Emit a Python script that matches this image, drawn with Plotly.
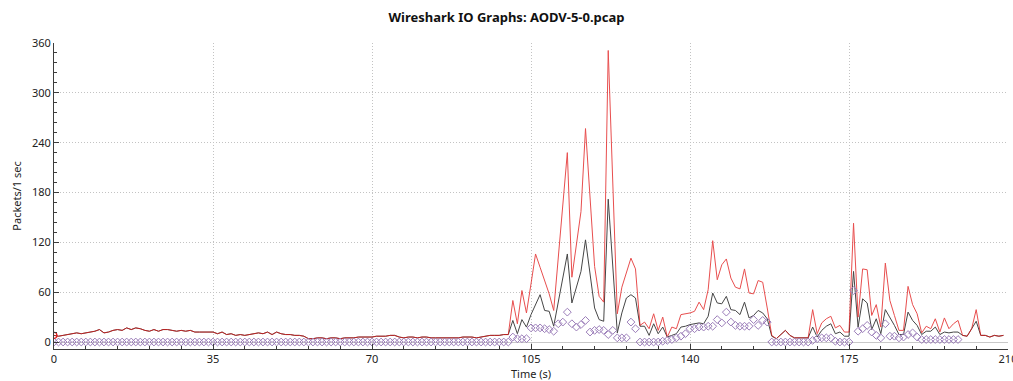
import plotly.graph_objects as go

times = list(range(210))

# Red series (all packets) t = 0..209
red_vals = [
    8, 7, 8, 9, 10, 11, 10, 11, 12, 13,
    15, 11, 12, 14, 15, 14, 17, 15, 17, 16,
    14, 13, 15, 13, 15, 15, 14, 13, 14, 13,
    14, 12, 12, 12, 12, 12, 10, 12, 9, 10,
    8, 9, 8, 9, 10, 11, 10, 12, 9, 12,
    10, 9, 9, 8, 8, 7, 4, 4, 5, 5,
    4, 5, 5, 4, 5, 5, 5, 6, 6, 6,
    6, 7, 7, 7, 8, 8, 6, 5, 6, 6,
    5, 6, 6, 5, 5, 5, 5, 5, 5, 5,
    6, 6, 6, 5, 6, 7, 8, 8, 8, 9,
    9, 50, 22, 62, 35, 70, 106, 90, 74, 58,
    38, 100, 164, 228, 78, 118, 157, 257, 172, 91,
    55, 48, 351, 190, 34, 66, 84, 101, 88, 20,
    24, 16, 34, 14, 30, 6, 18, 16, 33, 34,
    35, 37, 48, 39, 63, 122, 75, 93, 100, 77,
    66, 64, 88, 59, 58, 74, 72, 41, 8, 4,
    9, 14, 8, 5, 5, 5, 5, 39, 10, 23,
    28, 31, 17, 20, 12, 12, 143, 30, 88, 87,
    32, 45, 18, 95, 50, 32, 14, 14, 67, 45,
    34, 11, 19, 16, 28, 12, 29, 16, 22, 26,
    8, 7, 16, 39, 8, 8, 6, 8, 7, 8,
]

# Gray series t = 0..209
gray_vals = red_vals[:101] + [
    26, 10, 27, 18, 33, 46, 57, 38, 37,
    19, 48, 77, 106, 47, 66, 85, 123, 80, 41,
    27, 25, 172, 90, 11, 35, 53, 57, 53, 19,
    19, 8, 22, 10, 18, 6, 8, 10, 18, 19,
    21, 22, 23, 22, 31, 59, 47, 46, 55, 39,
    38, 33, 48, 29, 32, 38, 35, 28, 7, 4,
    9, 14, 8, 5, 5, 5, 5, 18, 6, 14,
    19, 22, 10, 12, 7, 7, 85, 18, 52, 47,
    15, 28, 10, 39, 30, 20, 9, 9, 36, 26,
    20, 9, 13, 13, 18, 9, 12, 11, 12, 12,
    8, 7, 16, 25, 8, 8, 6, 8, 7, 8,
]

# Diamond series t = 0..209 (None = no point)
diamond_vals = [0] * 101 + [
    6, 4, 4, 4, 17, 17, 17, 16, 15,
    13, 22, 24, 36, 22, 18, 21, 26, 12, 14,
    15, 14, 9, 14, 5, 5, 5, 24, 16, 0,
    0, 0, 0, 0, 1, 2, 3, 5, 7, 10,
    16, 16, 18, 18, 19, 19, 27, 23, 36, 24,
    20, 19, 19, 19, 27, 20, 26, 24, 0, 0,
    0, 0, 0, 0, 0, 0, 0, 2, 4, 5,
    5, 5, 1, 0, 0, 0, 62, 13, 16, 20,
    12, 8, 5, 22, 7, 7, 5, 6, 9, 11,
    6, 3, 3, 3, 3, 3, 3, 3, 3, 3,
    None, None, None, None, None, None, None, None, None, None,
]

x_ticks = [0, 35, 70, 105, 140, 175, 210]
y_ticks = [0, 60, 120, 180, 240, 300, 360]

fig = go.Figure()
fig.add_trace(go.Scatter(
    x=times, y=gray_vals, mode="lines",
    line=dict(color="rgb(70,70,70)", width=1), hoverinfo="skip",
))
fig.add_trace(go.Scatter(
    x=times, y=red_vals, mode="lines", opacity=0.75,
    line=dict(color="rgb(225,20,20)", width=1), hoverinfo="skip",
))
fig.add_trace(go.Scatter(
    x=times, y=diamond_vals, mode="markers",
    marker=dict(symbol="diamond-open", size=6, color="rgb(155,125,185)",
                line=dict(width=1, color="rgb(155,125,185)")),
    hoverinfo="skip",
))
fig.add_trace(go.Scatter(
    x=times[:1], y=red_vals[:1], mode="markers",
    marker=dict(symbol="circle-open", size=6, color="rgb(225,20,20)",
                line=dict(width=1.2, color="rgb(225,20,20)")),
    hoverinfo="skip",
))

font_family = "Noto Sans, Open Sans, DejaVu Sans, sans-serif"
fig.update_layout(
    width=1013, height=381,
    margin=dict(l=54, r=5, t=43, b=32),
    paper_bgcolor="white", plot_bgcolor="white",
    showlegend=False,
    font=dict(family=font_family, size=11, color="#222"),
    title=dict(text="<b>Wireshark IO Graphs: AODV-5-0.pcap</b>",
               x=0.5, xref="container", xanchor="center",
               y=0.955, yref="container", yanchor="middle",
               font=dict(size=13, color="#111", family=font_family)),
    xaxis=dict(
        range=[0, 210], tickvals=x_ticks, ticktext=[str(v) for v in x_ticks],
        automargin=False, ticklabeloverflow="allow",
        showgrid=True, gridcolor="rgb(195,195,195)", griddash="1px,2px", gridwidth=1,
        showline=True, linecolor="rgb(60,60,60)", linewidth=1,
        ticks="inside", ticklen=5, tickcolor="rgb(60,60,60)",
        minor=dict(dtick=7, tick0=0, ticks="inside", ticklen=3,
                   tickcolor="rgb(60,60,60)", showgrid=False),
        zeroline=False,
        tickfont=dict(size=11),
    ),
    yaxis=dict(
        range=[-8.4, 360], tickvals=y_ticks, ticktext=[str(v) for v in y_ticks],
        automargin=False,
        showgrid=True, gridcolor="rgb(195,195,195)", griddash="1px,2px", gridwidth=1,
        showline=True, linecolor="rgb(60,60,60)", linewidth=1,
        ticks="inside", ticklen=5, tickcolor="rgb(60,60,60)",
        minor=dict(dtick=12, tick0=0, ticks="inside", ticklen=3,
                   tickcolor="rgb(60,60,60)", showgrid=False),
        zeroline=True, zerolinecolor="rgb(200,200,200)", zerolinewidth=1,
        title=dict(text="Packets/1 sec", standoff=8, font=dict(size=11)),
        tickfont=dict(size=11),
    ),
    annotations=[dict(
        text="Time (s)", xref="paper", yref="paper", x=0.5, y=0,
        xanchor="center", yanchor="middle", yshift=-24, showarrow=False,
        font=dict(size=11, color="#222", family=font_family),
    )],
)

fig.write_html("out.html")
